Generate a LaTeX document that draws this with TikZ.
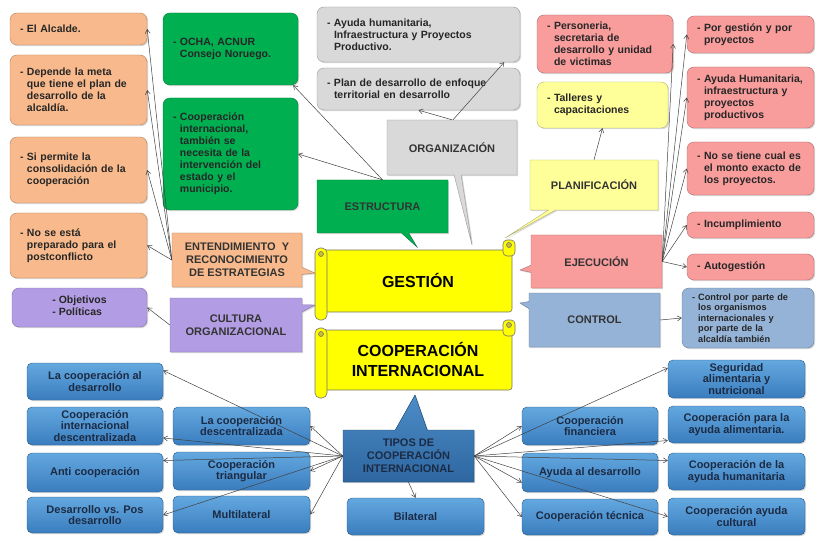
\documentclass[tikz,border=0pt]{standalone}
\usepackage{fontspec}
\setmainfont{Liberation Sans}
\usetikzlibrary{shapes.callouts, arrows.meta, shadows, calc}

\definecolor{orangefill}{HTML}{F8BA8C}
\definecolor{greenfill}{HTML}{00B050}
\definecolor{grayfill}{HTML}{D9D9D9}
\definecolor{redfill}{HTML}{F89C9C}
\definecolor{paleyellow}{HTML}{FFFF99}
\definecolor{scrollyellow}{HTML}{FFFF00}
\definecolor{purplefill}{HTML}{B29DE4}
\definecolor{controlfill}{HTML}{95B3D7}
\definecolor{bluetop}{HTML}{64A8E0}
\definecolor{bluebot}{HTML}{3A7DBE}
\definecolor{tipostop}{HTML}{4C8DC8}
\definecolor{tiposbot}{HTML}{2E66A0}
\definecolor{navytext}{HTML}{1C2B44}

\newcommand{\ind}{\hphantom{- }}
\newcommand{\notefont}{\fontsize{10.5}{12}\selectfont\bfseries}
\newcommand{\smallnotefont}{\fontsize{9.2}{10.6}\selectfont\bfseries}
\newcommand{\headfont}{\fontsize{11}{13}\selectfont\bfseries}
\newcommand{\tipofont}{\fontsize{11}{11.6}\selectfont\bfseries}
\newcommand{\titlefont}{\fontsize{16}{20}\selectfont\bfseries}

\begin{document}
\begin{tikzpicture} [
    x=1pt, y=-1pt,
    shade/.style={drop shadow={shadow xshift=1.2pt, shadow yshift=-1.2pt, opacity=0.3}},
    note/.style={rectangle, rounded corners=7pt, draw=#1!70!black, fill=#1, shade, font=\notefont, align=left, inner xsep=10pt, inner ysep=1pt, text=black!85},
    bubble/.style={rectangle callout, draw=#1!70!black, fill=#1, shade, font=\headfont, align=center, inner sep=1pt, text=black!80},
    tipo/.style={rectangle, rounded corners=5pt, draw=bluebot!70!black, top color=bluetop, bottom color=bluebot, shade, font=\tipofont, align=center, inner xsep=1pt, inner ysep=0pt, text=navytext},
    scroll/.style={draw=black!55, fill=scrollyellow, line width=0.6pt},
    arrow/.style={-{Straight Barb[length=4pt, width=5pt]}, draw=black!75, line width=0.5pt},
    wh/.style 2 args={minimum width=#1pt, minimum height=#2pt}
]
\useasboundingbox (0,0) rectangle (816,537);

% Scrolls
\foreach \t/\b in {250/312, 330/390}{
    \filldraw[scroll, rounded corners=3pt] (321,\t) rectangle (512,\b);
    \filldraw[scroll, rounded corners=4pt] (503,{\t-10}) rectangle (515,{\t+6});
    \filldraw[scroll, fill=yellow!75!black] (509,{\t-5}) circle (2.5pt);
    \filldraw[scroll, rounded corners=5pt] (315,{\t-2}) rectangle (327,{\b+8});
    \filldraw[scroll, fill=yellow!75!black] (321,{\t+4}) circle (2.5pt);
}
\node[font=\titlefont] (gestion) at (418,280) {GESTIÓN};
\node[font=\titlefont, align=center] (coopint) at (418,359) {COOPERACIÓN\\INTERNACIONAL};

% Left notes
\node[note=orangefill, text width=117pt, wh={137}{32}] (alcalde) at (78.5,29) {- El Alcalde.};
\node[note=orangefill, text width=117pt, wh={137}{70}] (meta) at (78.5,90) {- Depende la meta\\\ind que tiene el plan de\\\ind desarrollo de la\\\ind alcaldía.};
\node[note=orangefill, text width=117pt, wh={137}{66}] (consolida) at (78.5,170) {- Si permite la\\\ind consolidación de la\\\ind cooperación};
\node[note=orangefill, text width=117pt, wh={137}{65}] (postconf) at (78.5,245.5) {- No se está\\\ind preparado para el\\\ind postconflicto};
\node[note=purplefill, align=center, wh={135}{39}] (objetivos) at (79.5,307.5) {\begin{tabular}{@{}l@{}}- Objetivos\\- Políticas\end{tabular}};

% Green notes
\node[note=greenfill, text width=115pt, wh={135}{72}] (ocha) at (230.5,49) {- OCHA, ACNUR\\\ind Consejo Noruego.};
\node[note=greenfill, text width=115pt, wh={135}{112}] (estado) at (230.5,154) {- Cooperación\\\ind internacional,\\\ind también se\\\ind necesita de la\\\ind intervención del\\\ind estado y el\\\ind municipio.};

% Gray notes
\node[note=grayfill, text width=183pt, wh={203}{55}] (ayudahum) at (418.5,34.5) {- Ayuda humanitaria,\\\ind Infraestructura y Proyectos\\\ind Productivo.};
\node[note=grayfill, text width=183pt, wh={203}{42}] (plandes) at (418.5,89) {- Plan de desarrollo de enfoque\\\ind territorial en desarrollo};

% Planning and execution notes
\node[note=redfill, text width=116pt, wh={136}{58}] (personeria) at (605,44) {- Personeria,\\\ind secretaria de\\\ind desarrollo y unidad\\\ind de victimas};
\node[note=paleyellow, text width=111pt, wh={131}{46}] (talleres) at (602.5,105) {- Talleres y\\\ind capacitaciones};
\node[note=redfill, text width=107pt, wh={127}{37}] (porgestion) at (750.5,34.5) {- Por gestión y por\\\ind proyectos};
\node[note=redfill, text width=107pt, wh={127}{61}] (ayudainfra) at (750.5,97.5) {- Ayuda Humanitaria,\\\ind infraestructura y\\\ind proyectos\\\ind productivos};
\node[note=redfill, text width=107pt, wh={127}{53}] (monto) at (750.5,168.5) {- No se tiene cual es\\\ind el monto exacto de\\\ind los proyectos.};
\node[note=redfill, text width=107pt, wh={127}{26}] (incumpl) at (750.5,225) {- Incumplimiento};
\node[note=redfill, text width=107pt, wh={127}{26}] (autogest) at (750.5,267) {- Autogestión};
\node[note=controlfill, font=\smallnotefont, text width=112pt, wh={132}{60}] (controlbox) at (748,318) {- Control por parte de\\\ind los organismos\\\ind internacionales y\\\ind por parte de la\\\ind alcaldía también};

% Callouts round the scroll
\node[bubble=greenfill, wh={131}{53}, callout absolute pointer={(417,247)}] (estructura) at (382.5,206.5) {ESTRUCTURA};
\node[bubble=grayfill, wh={130}{55}, callout absolute pointer={(472,245)}] (organiz) at (452,147.5) {ORGANIZACIÓN};
\node[bubble=paleyellow, wh={128}{50}, callout absolute pointer={(505,238)}] (planif) at (594,185) {PLANIFICACIÓN};
\node[bubble=redfill, wh={131}{53}, callout absolute pointer={(520,270)}] (ejecucion) at (596.5,261.5) {EJECUCIÓN};
\node[bubble=controlfill, wh={131}{54}, callout absolute pointer={(520,303)}] (control) at (594.5,320) {CONTROL};
\node[bubble=orangefill, wh={130}{54}, callout absolute pointer={(315,273)}] (entend) at (237,260) {ENTENDIMIENTO \ Y\\RECONOCIMIENTO\\DE ESTRATEGIAS};
\node[bubble=purplefill, wh={132}{54}, callout absolute pointer={(315,305)}] (cultura) at (236,325) {CULTURA\\ORGANIZACIONAL};
\node[bubble=tiposbot, top color=tipostop, bottom color=tiposbot, text=navytext, callout pointer width=32pt, wh={131}{52}, callout absolute pointer={(415,395)}] (tipos) at (408.5,456) {TIPOS DE\\COOPERACIÓN\\INTERNACIONAL};

% Types of cooperation
\node[tipo, wh={136}{37}] (aldesarrollo) at (95,381.5) {La cooperación al\\desarrollo};
\node[tipo, wh={136}{38}] (intdesc) at (95,426) {Cooperación\\internacional\\descentralizada};
\node[tipo, wh={136}{39}] (anti) at (95,472.5) {Anti cooperación};
\node[tipo, wh={136}{36}] (desvspos) at (95,515) {Desarrollo vs. Pos\\desarrollo};
\node[tipo, wh={137}{38}] (descentr) at (241.5,426) {La cooperación\\descentralizada};
\node[tipo, wh={137}{38}] (triangular) at (241.5,471) {Cooperación\\triangular};
\node[tipo, wh={137}{37}] (multilateral) at (241.5,514.5) {Multilateral};
\node[tipo, wh={137}{37}] (bilateral) at (415.5,516.5) {Bilateral};
\node[tipo, wh={136}{38}] (financiera) at (590,426) {Cooperación\\financiera};
\node[tipo, wh={136}{39}] (ayudades) at (590,472.5) {Ayuda al desarrollo};
\node[tipo, wh={136}{36}] (tecnica) at (590,517) {Cooperación técnica};
\node[tipo, wh={137}{38}] (seguridad) at (736.5,379) {Seguridad\\alimentaria y\\nutricional};
\node[tipo, wh={137}{37}] (alimentaria) at (736.5,424.5) {Cooperación para la\\ayuda alimentaria.};
\node[tipo, wh={137}{37}] (humanitaria) at (736.5,471.5) {Cooperación de la\\ayuda humanitaria};
\node[tipo, wh={137}{37}] (cultural) at (736.5,516.5) {Cooperación ayuda\\cultural};

% Arrows
\draw[arrow] (entend.west) -- (alcalde.east);
\draw[arrow] (entend.west) -- (meta.east);
\draw[arrow] (entend.west) -- (consolida.east);
\draw[arrow] (entend.west) -- (postconf.east);
\draw[arrow] (cultura.west) -- (objetivos.east);

\draw[arrow] (estructura.north) -- (ocha.-30);
\draw[arrow] (estructura.north) -- (estado.east);

\draw[arrow] (organiz.north) -- (plandes.south);
\draw[arrow] ([xshift=1pt]organiz.north) -- ([xshift=-16pt]ayudahum.south east);

\draw[arrow] (planif.north) -- (talleres.south);

\draw[arrow] (ejecucion.east) -- (personeria.east);
\draw[arrow] (ejecucion.east) -- (porgestion.west);
\draw[arrow] (ejecucion.east) -- (ayudainfra.west);
\draw[arrow] (ejecucion.east) -- (monto.west);
\draw[arrow] (ejecucion.east) -- (incumpl.west);
\draw[arrow] (ejecucion.east) -- (autogest.west);

\draw[arrow] (control.east) -- (controlbox.west);

\draw[arrow] (tipos.west) -- ([yshift=11pt]aldesarrollo.east);
\draw[arrow] (tipos.west) -- ([yshift=-12pt]intdesc.east);
\draw[arrow] (tipos.west) -- ([yshift=12pt]anti.east);
\draw[arrow] (tipos.west) -- (desvspos.east);
\draw[arrow] (tipos.west) -- (descentr.east);
\draw[arrow] (tipos.west) -- (triangular.east);
\draw[arrow] (tipos.west) -- (multilateral.east);
\draw[arrow] (tipos.south) -- (bilateral.north);

\draw[arrow] (tipos.east) -- (financiera.west);
\draw[arrow] (tipos.east) -- ([yshift=-10pt]ayudades.west);
\draw[arrow] (tipos.east) -- (tecnica.west);
\draw[arrow] (tipos.east) -- ([yshift=11pt]seguridad.west);
\draw[arrow] (tipos.east) -- ([yshift=-16pt]alimentaria.west);
\draw[arrow] (tipos.east) -- ([yshift=11pt]humanitaria.west);
\draw[arrow] (tipos.east) -- (cultural.west);

\end{tikzpicture}
\end{document}
